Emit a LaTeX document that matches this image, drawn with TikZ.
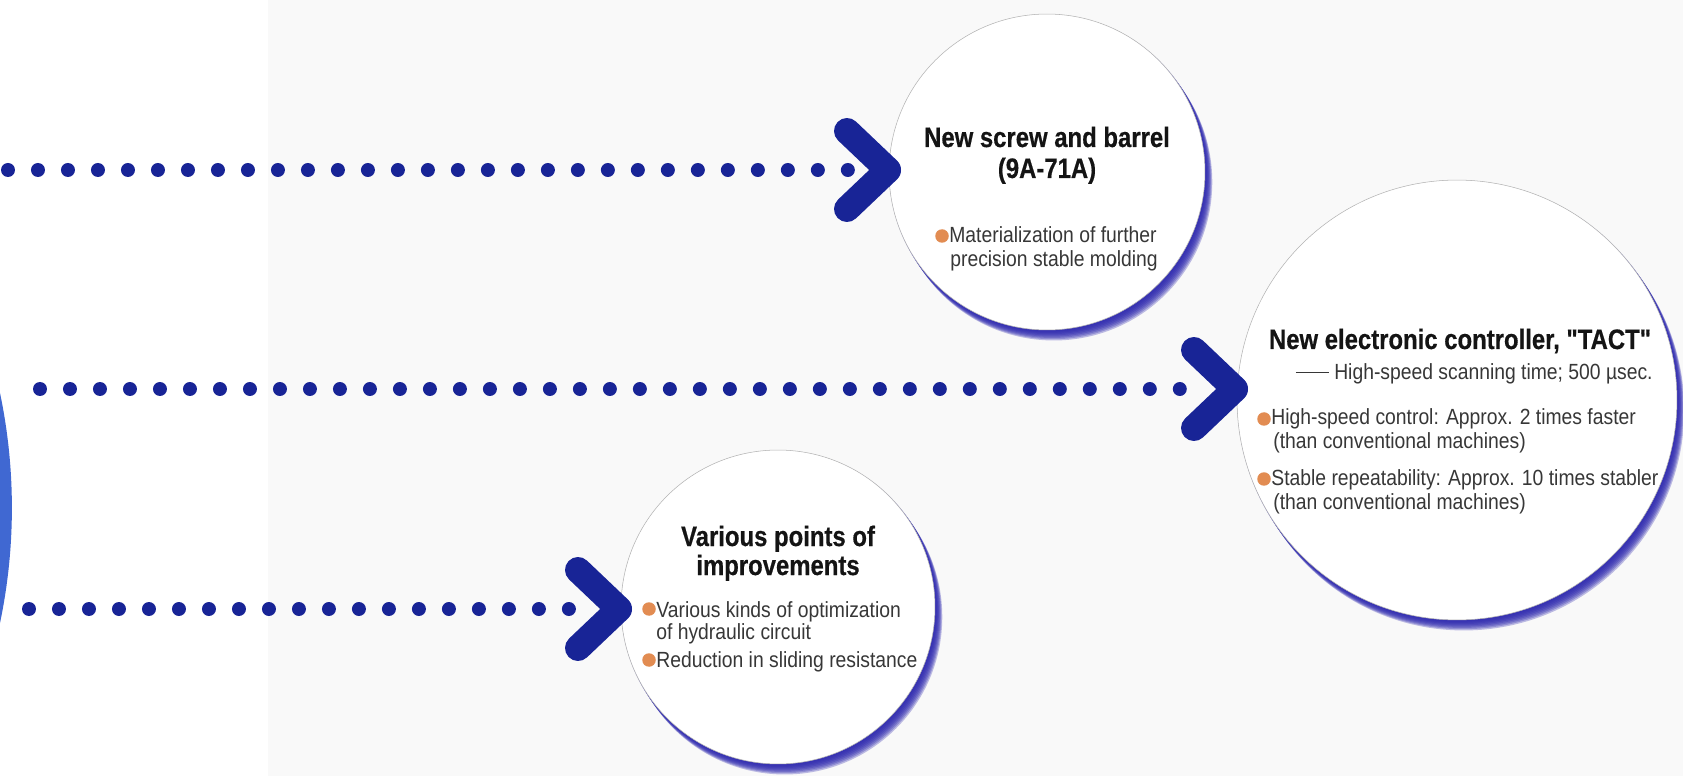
\documentclass[tikz,border=0pt]{standalone}
\usepackage{fontspec}
\setmainfont{Liberation Sans}
\newfontfamily\ttlfont[FakeStretch=0.85, BoldFeatures={FakeBold=0.5}]{Liberation Sans}
\newfontfamily\bdyfont[FakeStretch=0.88]{Liberation Sans}
\usetikzlibrary{calc}
\definecolor{navy}{RGB}{24,36,150}
\definecolor{glow}{RGB}{45,40,175}
\definecolor{bigblue}{RGB}{64,104,210}
\definecolor{bulletc}{RGB}{226,140,82}
\definecolor{bodytxt}{RGB}{55,55,55}
\definecolor{paper}{RGB}{249,249,249}
\tikzset{
 ttlstyle/.style={font=\ttlfont\bfseries\fontsize{16}{19}\selectfont, text=black!92, inner sep=0pt, anchor=base},
 txt/.style={font=\bdyfont\fontsize{12.5}{14}\selectfont, text=bodytxt, inner sep=0pt, anchor=base west},
 bub/.style={circle, fill=white, draw=black!30, line width=0.3pt, inner sep=0pt},
 rim/.style={fill=glow, opacity=0.3},
 chev/.style={draw=navy, line width=0.52cm, line cap=round, line join=round},
 dotrow/.style={draw=navy, line width=0.28cm, line cap=round, dash pattern=on 0pt off 0.6cm},
 bul/.style={circle, fill=bulletc, inner sep=0pt, minimum size=0.27cm},
}
\newcommand\rimglow[2]{%
  \foreach \k in {1,...,8}{\fill[rim] ($(#1)+(\k*0.85,\k*1.25)$) circle (#2);}}
\begin{document}
\begin{tikzpicture}[x=0.02cm, y=-0.02cm]
\useasboundingbox (0,0) rectangle (1683,776);
\clip (0,0) rectangle (1683,776);
\fill[white] (0,0) rectangle (1683,776);
\fill[paper] (268,0) rectangle (1683,776);
% big circle at left edge
\fill[bigblue] (-545,508) circle (11.14cm);
% dotted connectors
\coordinate (s1) at (8,170);   \coordinate (e1) at (852,170);
\coordinate (s2) at (40,389);  \coordinate (e2) at (1186,389);
\coordinate (s3) at (29,609);  \coordinate (e3) at (573,609);
\draw[dotrow] (s1) -- (e1);
\draw[dotrow] (s2) -- (e2);
\draw[dotrow] (s3) -- (e3);
% bubbles with rim glow
\coordinate (screwc) at (1047,172);
\coordinate (tactc) at (1457,400);
\coordinate (varic) at (778,607);
\rimglow{screwc}{3.17cm}
\rimglow{tactc}{4.41cm}
\rimglow{varic}{3.15cm}
\node[bub, minimum size=6.32cm] (screw) at (screwc) {};
\node[bub, minimum size=8.8cm] (tact) at (tactc) {};
\node[bub, minimum size=6.28cm] (vari) at (varic) {};
% chevrons
\coordinate (c1) at (888,170);
\coordinate (c2) at (1235,389);
\coordinate (c3) at (619,609);
\draw[chev] ($(c1)+(-41,-39)$) -- (c1) -- ($(c1)+(-41,39)$);
\draw[chev] ($(c2)+(-41,-39)$) -- (c2) -- ($(c2)+(-41,39)$);
\draw[chev] ($(c3)+(-41,-39)$) -- (c3) -- ($(c3)+(-41,39)$);
% texts: screw
\node[ttlstyle] (t1a) at (1047,147) {New screw and barrel};
\node[ttlstyle] (t1b) at (1047,178) {(9A-71A)};
\node[bul] (b1) at (942,236) {};
\node[txt] (l1a) at (949,243) {Materialization of further};
\node[txt] (l1b) at (950,267) {precision stable molding};
% texts: tact
\node[ttlstyle] (t2a) at (1460,349) {New electronic controller, "TACT"};
\node[txt, anchor=base east] (t2b) at (1653,380) {\rule[0.3em]{1.5em}{0.6pt}\ High-speed scanning time; 500 µsec.};
\node[bul] (b2a) at (1264,419) {};
\node[txt] (l2a) at (1271,425) {High-speed control: Approx. 2 times faster};
\node[txt] (l2b) at (1273,449) {(than conventional machines)};
\node[bul] (b2b) at (1264,479) {};
\node[txt] (l2c) at (1271,485) {Stable repeatability: Approx. 10 times stabler};
\node[txt] (l2d) at (1273,509) {(than conventional machines)};
% texts: various
\node[ttlstyle] (t3a) at (778,546) {Various points of};
\node[ttlstyle] (t3b) at (778,575) {improvements};
\node[bul] (b3a) at (649,609) {};
\node[txt] (l3a) at (656,617) {Various kinds of optimization};
\node[txt] (l3b) at (656,639) {of hydraulic circuit};
\node[bul] (b3b) at (649,660) {};
\node[txt] (l3c) at (656,667) {Reduction in sliding resistance};
\end{tikzpicture}
\end{document}
